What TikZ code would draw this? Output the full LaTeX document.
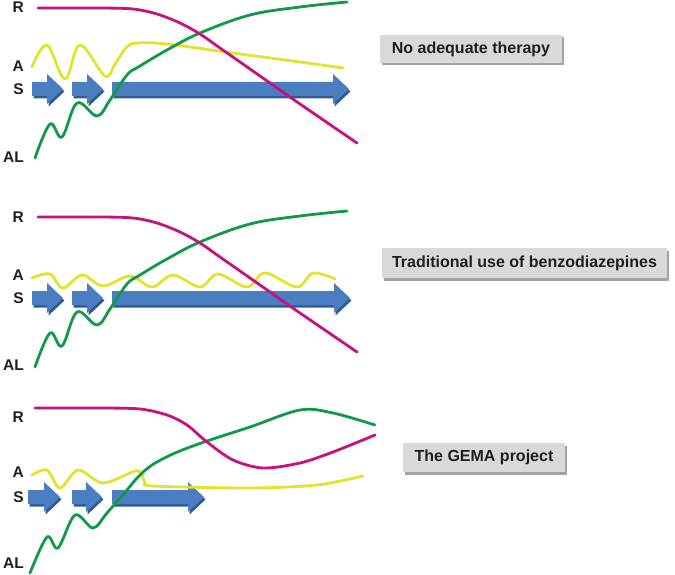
\documentclass[tikz,border=0pt]{standalone}
\usepackage{fontspec}
\setmainfont{Liberation Sans}
\usetikzlibrary{shadows}
\definecolor{rmag}{HTML}{C4127E}
\definecolor{algreen}{HTML}{109A48}
\definecolor{ayel}{HTML}{E3E22C}
\definecolor{sblue}{HTML}{4A7EC0}
\definecolor{sshadow}{HTML}{2F5C94}
\definecolor{boxgrey}{HTML}{D9D9D9}
\definecolor{boxshadow}{HTML}{A3A3A3}
\definecolor{txt}{HTML}{1E1E1E}
\newcommand{\blkarrow}[3]{%
  \fill[sshadow] ({#1+1.5},{#3-7+2.5}) -- ({#2-16+1.5},{#3-7+2.5}) -- ({#2-16+1.5},{#3-15+2.5}) -- ({#2+1.5},{#3+2.5}) -- ({#2-16+1.5},{#3+15+2.5}) -- ({#2-16+1.5},{#3+7+2.5}) -- ({#1+1.5},{#3+7+2.5}) -- cycle;
  \fill[sblue] (#1,{#3-7}) -- ({#2-16},{#3-7}) -- ({#2-16},{#3-15}) -- (#2,#3) -- ({#2-16},{#3+15}) -- ({#2-16},{#3+7}) -- (#1,{#3+7}) -- cycle;}
\begin{document}
\begin{tikzpicture}[x=1pt,y=-1pt,
  lbl/.style={anchor=east,font=\fontsize{15.5}{17}\selectfont\bfseries,text=txt,inner sep=0pt},
  curve/.style={line width=2.8pt,line cap=round,line join=round},
  tagbox/.style={fill=boxgrey,draw=none,font=\fontsize{16}{18}\selectfont\bfseries,text=txt,inner sep=0pt,
    drop shadow={shadow xshift=2pt,shadow yshift=-2.5pt,fill=boxshadow,opacity=1}}]
\useasboundingbox (0,0) rectangle (675,575);

% ---------- Panel 1 ----------
\node[lbl] (r1) at (24,7) {R};
\node[lbl] (a1) at (24,66) {A};
\node[lbl] (s1) at (24,89) {S};
\node[lbl] (al1) at (24,157) {AL};
\blkarrow{32}{63}{89}
\blkarrow{72}{103}{89}
\blkarrow{112}{349}{89}
\draw[curve,ayel] plot[smooth,tension=0.6] coordinates {(32,67) (47,45) (65,79) (80,45) (105,76) (115,64) (127,47) (138,43) (167,44) (225,52) (300,62) (343,68)};
\draw[curve,algreen] plot[smooth,tension=0.6] coordinates {(35,158) (50,124) (62,137) (77,103) (97,116) (110,100) (127,75) (140,66) (167,50) (200,33) (250,15) (300,7) (347,2)};
\draw[curve,rmag] plot[smooth,tension=0.5] coordinates {(38,8) (100,8) (133,9) (157,14) (180,23) (200,34) (220,48) (260,76) (300,104) (357,143)};
\node[tagbox,minimum width=182pt,minimum height=28pt] (b1) at (471,49) {No adequate therapy};

% ---------- Panel 2 ----------
\node[lbl] (r2) at (24,217) {R};
\node[lbl] (a2) at (24,275) {A};
\node[lbl] (s2) at (24,298) {S};
\node[lbl] (al2) at (24,365) {AL};
\begin{scope}[yshift=-209pt]
\blkarrow{32}{63}{89}
\blkarrow{72}{103}{89}
\blkarrow{112}{350}{89}
\end{scope}
\draw[curve,ayel] plot[smooth,tension=0.55] coordinates {(32,278) (50,274) (63,288) (82,275) (103,286) (130,276) (152,287) (173,275) (200,287) (218,274) (247,287) (265,273) (297,287) (313,273) (335,279)};
\begin{scope}[yshift=-209pt]
\draw[curve,algreen] plot[smooth,tension=0.6] coordinates {(35,158) (50,124) (62,137) (77,103) (97,116) (110,100) (127,75) (140,66) (167,50) (200,33) (250,15) (300,7) (347,2)};
\draw[curve,rmag] plot[smooth,tension=0.5] coordinates {(38,8) (100,8) (133,9) (157,14) (180,23) (200,34) (220,48) (260,76) (300,104) (357,143)};
\end{scope}
\node[tagbox,minimum width=285pt,minimum height=30pt] (b2) at (524.5,263) {Traditional use of benzodiazepines};

% ---------- Panel 3 ----------
\node[lbl] (r3) at (24,417) {R};
\node[lbl] (a3) at (24,472) {A};
\node[lbl] (s3) at (24,497) {S};
\node[lbl] (al3) at (24,563) {AL};
\blkarrow{28}{60}{497}
\blkarrow{72}{102}{497}
\blkarrow{112}{204}{497}
\draw[curve,ayel] plot[smooth,tension=0.5] coordinates {(32,475) (47,470) (60,488) (78,470) (103,483) (135,471) (141,474) (145,482) (153,486) (250,488) (317,485) (363,476)};
\draw[curve,algreen] plot[smooth,tension=0.55] coordinates {(30,573) (47,537) (58,548) (75,515) (93,528) (107,513) (127,490) (138,477) (152,465) (175,453) (207,441) (250,427) (300,410) (333,413) (375,425)};
\draw[curve,rmag] plot[smooth,tension=0.5] coordinates {(35,408) (100,408) (140,409) (167,415) (187,425) (207,442) (233,460) (263,468) (300,463) (333,452) (375,435)};
\node[tagbox,minimum width=162pt,minimum height=29pt] (b3) at (484,457.5) {The GEMA project};
\end{tikzpicture}
\end{document}
